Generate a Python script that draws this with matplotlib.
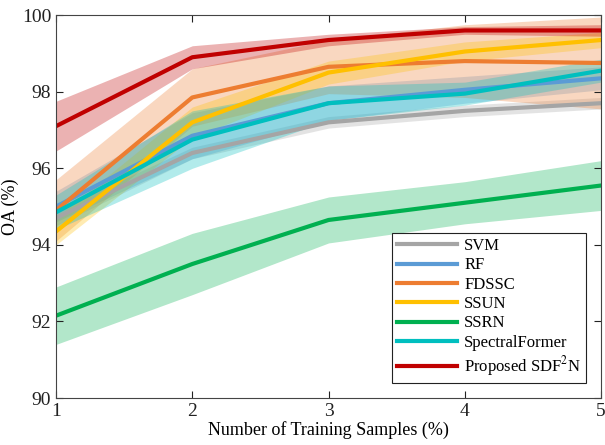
import numpy as np
import matplotlib
matplotlib.use('Agg')
import matplotlib.pyplot as plt

# Данные
x = [1, 2, 3, 4, 5]
names = ['SVM', 'RF', 'FDSSC', 'SSUN', 'SSRN', 'SpectralFormer', 'Proposed SDF$^2$N']
svm = [94.7, 96.4, 97.2, 97.5, 97.7]
rf = [95.0, 96.85, 97.7, 98.05, 98.35]
fdssc = [94.9, 97.85, 98.65, 98.8, 98.75]
ssun = [94.35, 97.2, 98.5, 99.05, 99.35]
ssrn = [92.15, 93.5, 94.65, 95.1, 95.55]
spectralformer = [94.85, 96.75, 97.7, 97.95, 98.55]
proposed = [97.1, 98.9, 99.35, 99.6, 99.6]

# разброс (std)
svm_std = [0.2, 0.15, 0.15, 0.15, 0.15]
rf_std = [0.4, 0.6, 0.45, 0.35, 0.3]
fdssc_std = [0.8, 0.75, 0.7, 0.95, 1.2]
ssun_std = [0.35, 0.4, 0.3, 0.25, 0.2]
ssrn_std = [0.75, 0.8, 0.6, 0.55, 0.65]
spectralformer_std = [0.45, 0.75, 0.45, 0.3, 0.3]
proposed_std = [0.65, 0.3, 0.15, 0.1, 0.15]

series = [svm, rf, fdssc, ssun, ssrn, spectralformer, proposed]
stds = [svm_std, rf_std, fdssc_std, ssun_std, ssrn_std, spectralformer_std, proposed_std]
colors = ['#A5A5A5', '#5B9BD5', '#ED7D31', '#FFC000', '#00B050', '#00BFBF', '#C00000']

plt.rcParams.update({
    'font.family': 'Liberation Serif',
    'font.size': 13,
    'mathtext.fontset': 'stix',
})

fig = plt.figure(figsize=(6.05, 4.45), dpi=100)
ax = fig.add_axes([0.0926, 0.1056, 0.9010, 0.8604])

for y, s, c in zip(series, stds, colors):
    y = np.array(y)
    s = np.array(s)
    ax.fill_between(x, y - s, y + s, color=c, alpha=0.3, linewidth=0)
for y, c, name in zip(series, colors, names):
    ax.plot(x, y, color=c, linewidth=3, label=name)

ax.set_xlim(1, 5)
ax.set_ylim(90, 100)
ax.set_xticks([1, 2, 3, 4, 5])
ax.set_yticks([90, 92, 94, 96, 98, 100])
ax.tick_params(direction='in', top=True, right=True, labelsize=14, colors='#222222', length=5)
for sp in ax.spines.values():
    sp.set_color('#444444')
ax.set_xlabel('Number of Training Samples (%)', fontsize=13, labelpad=1)
ax.set_ylabel('OA (%)', fontsize=13, labelpad=2)

leg = ax.legend(loc='lower right', fontsize=12, fancybox=False, edgecolor='#222222',
                framealpha=1, handlelength=3.6, borderaxespad=0.9,
                labelspacing=0.2, handletextpad=0.4, borderpad=0.3)
leg.get_frame().set_linewidth(0.8)

plt.savefig('out.png', dpi=100)
